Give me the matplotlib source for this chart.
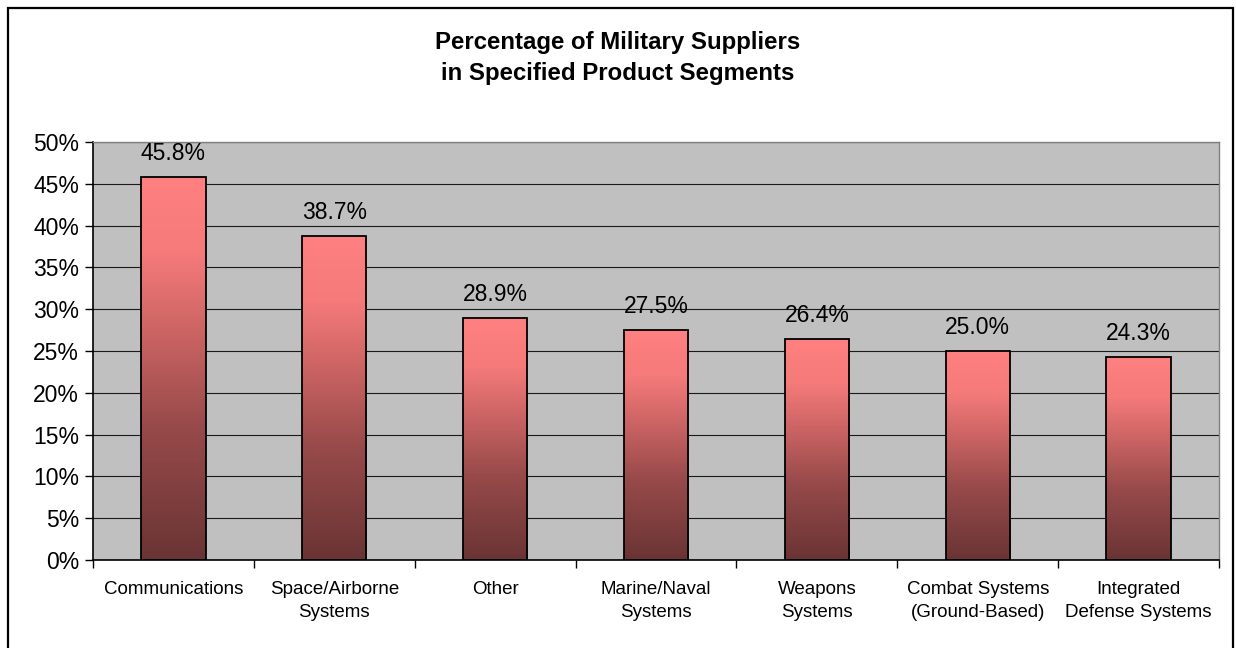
"""Percentage of military suppliers by product segment, Excel-style bar chart."""

import matplotlib
matplotlib.use("Agg")
import matplotlib.pyplot as plt
import numpy as np
from matplotlib.colors import LinearSegmentedColormap
from matplotlib.patches import Rectangle
from matplotlib.ticker import FixedLocator, MultipleLocator, PercentFormatter

plt.rcParams["font.family"] = ["Liberation Sans", "DejaVu Sans"]

# Data
categories = [
    "Communications",
    "Space/Airborne\nSystems",
    "Other",
    "Marine/Naval\nSystems",
    "Weapons\nSystems",
    "Combat Systems\n(Ground-Based)",
    "Integrated\nDefense Systems",
]
values = [45.8, 38.7, 28.9, 27.5, 26.4, 25.0, 24.3]
title = "Percentage of Military Suppliers\nin Specified Product Segments"

# bottom (dark) -> top (salmon)
bar_cmap = LinearSegmentedColormap.from_list(
    "bar_grad",
    [(0.0, "#6a3434"), (0.35, "#984a4a"), (0.6, "#cd6464"),
     (0.8, "#f57a7a"), (1.0, "#ff8080")],
)

fig = plt.figure(figsize=(12.36, 6.48), dpi=100)
ax = fig.add_axes([93 / 1236, 1 - 560 / 648, (1219 - 93) / 1236, (560 - 142) / 648])

# outer chart border
fig.patches.append(Rectangle((7.5 / 1236, -0.1), (1233 - 7.5) / 1236, 1 - 8.5 / 648 + 0.1,
                             transform=fig.transFigure, fill=False,
                             edgecolor="black", linewidth=1.6, zorder=10))

ax.set_facecolor("#c0c0c0")
x = np.arange(len(categories))
width = 0.4
grad = np.linspace(0, 1, 256).reshape(-1, 1)

bars = ax.bar(x, values, width=width, color="none", edgecolor="black",
              linewidth=1.3, zorder=3)
for rect, v in zip(bars, values):
    x0 = rect.get_x()
    im = ax.imshow(grad, cmap=bar_cmap, origin="lower", aspect="auto",
                   extent=(x0, x0 + width, 0, v), zorder=2, interpolation="bilinear")
    im.set_clip_path(rect)
    ax.annotate(f"{v:.1f}%", (rect.get_x() + width / 2, v), xytext=(0, 17),
                textcoords="offset points", ha="center", va="center", fontsize=16.5)

ax.set_xlim(-0.5, len(categories) - 0.5)
ax.set_ylim(0, 50)
ax.yaxis.set_major_locator(MultipleLocator(5))
ax.yaxis.set_major_formatter(PercentFormatter(decimals=0))
ax.grid(axis="y", color="#1a1a1a", linewidth=0.8, zorder=1)
ax.set_axisbelow(True)

ax.set_xticks(x)
ax.set_xticklabels(categories, fontsize=13.5, linespacing=1.45)
ax.tick_params(axis="x", length=0, pad=15)
ax.xaxis.set_minor_locator(FixedLocator(np.arange(-0.5, len(categories), 1.0)))
ax.tick_params(axis="x", which="minor", length=6, width=1, direction="out")
ax.tick_params(axis="y", length=6, width=1, direction="out", labelsize=16.5, pad=4)

for side in ["top", "right"]:
    ax.spines[side].set_color("#808080")
    ax.spines[side].set_linewidth(1)
ax.spines["left"].set_linewidth(1.2)
ax.spines["bottom"].set_linewidth(1.2)

fig.text(0.5, 1 - 58 / 648, title, ha="center", va="center", fontsize=17.3,
         fontweight="bold", linespacing=1.45)

fig.savefig("out.png", dpi=100, facecolor="white")
